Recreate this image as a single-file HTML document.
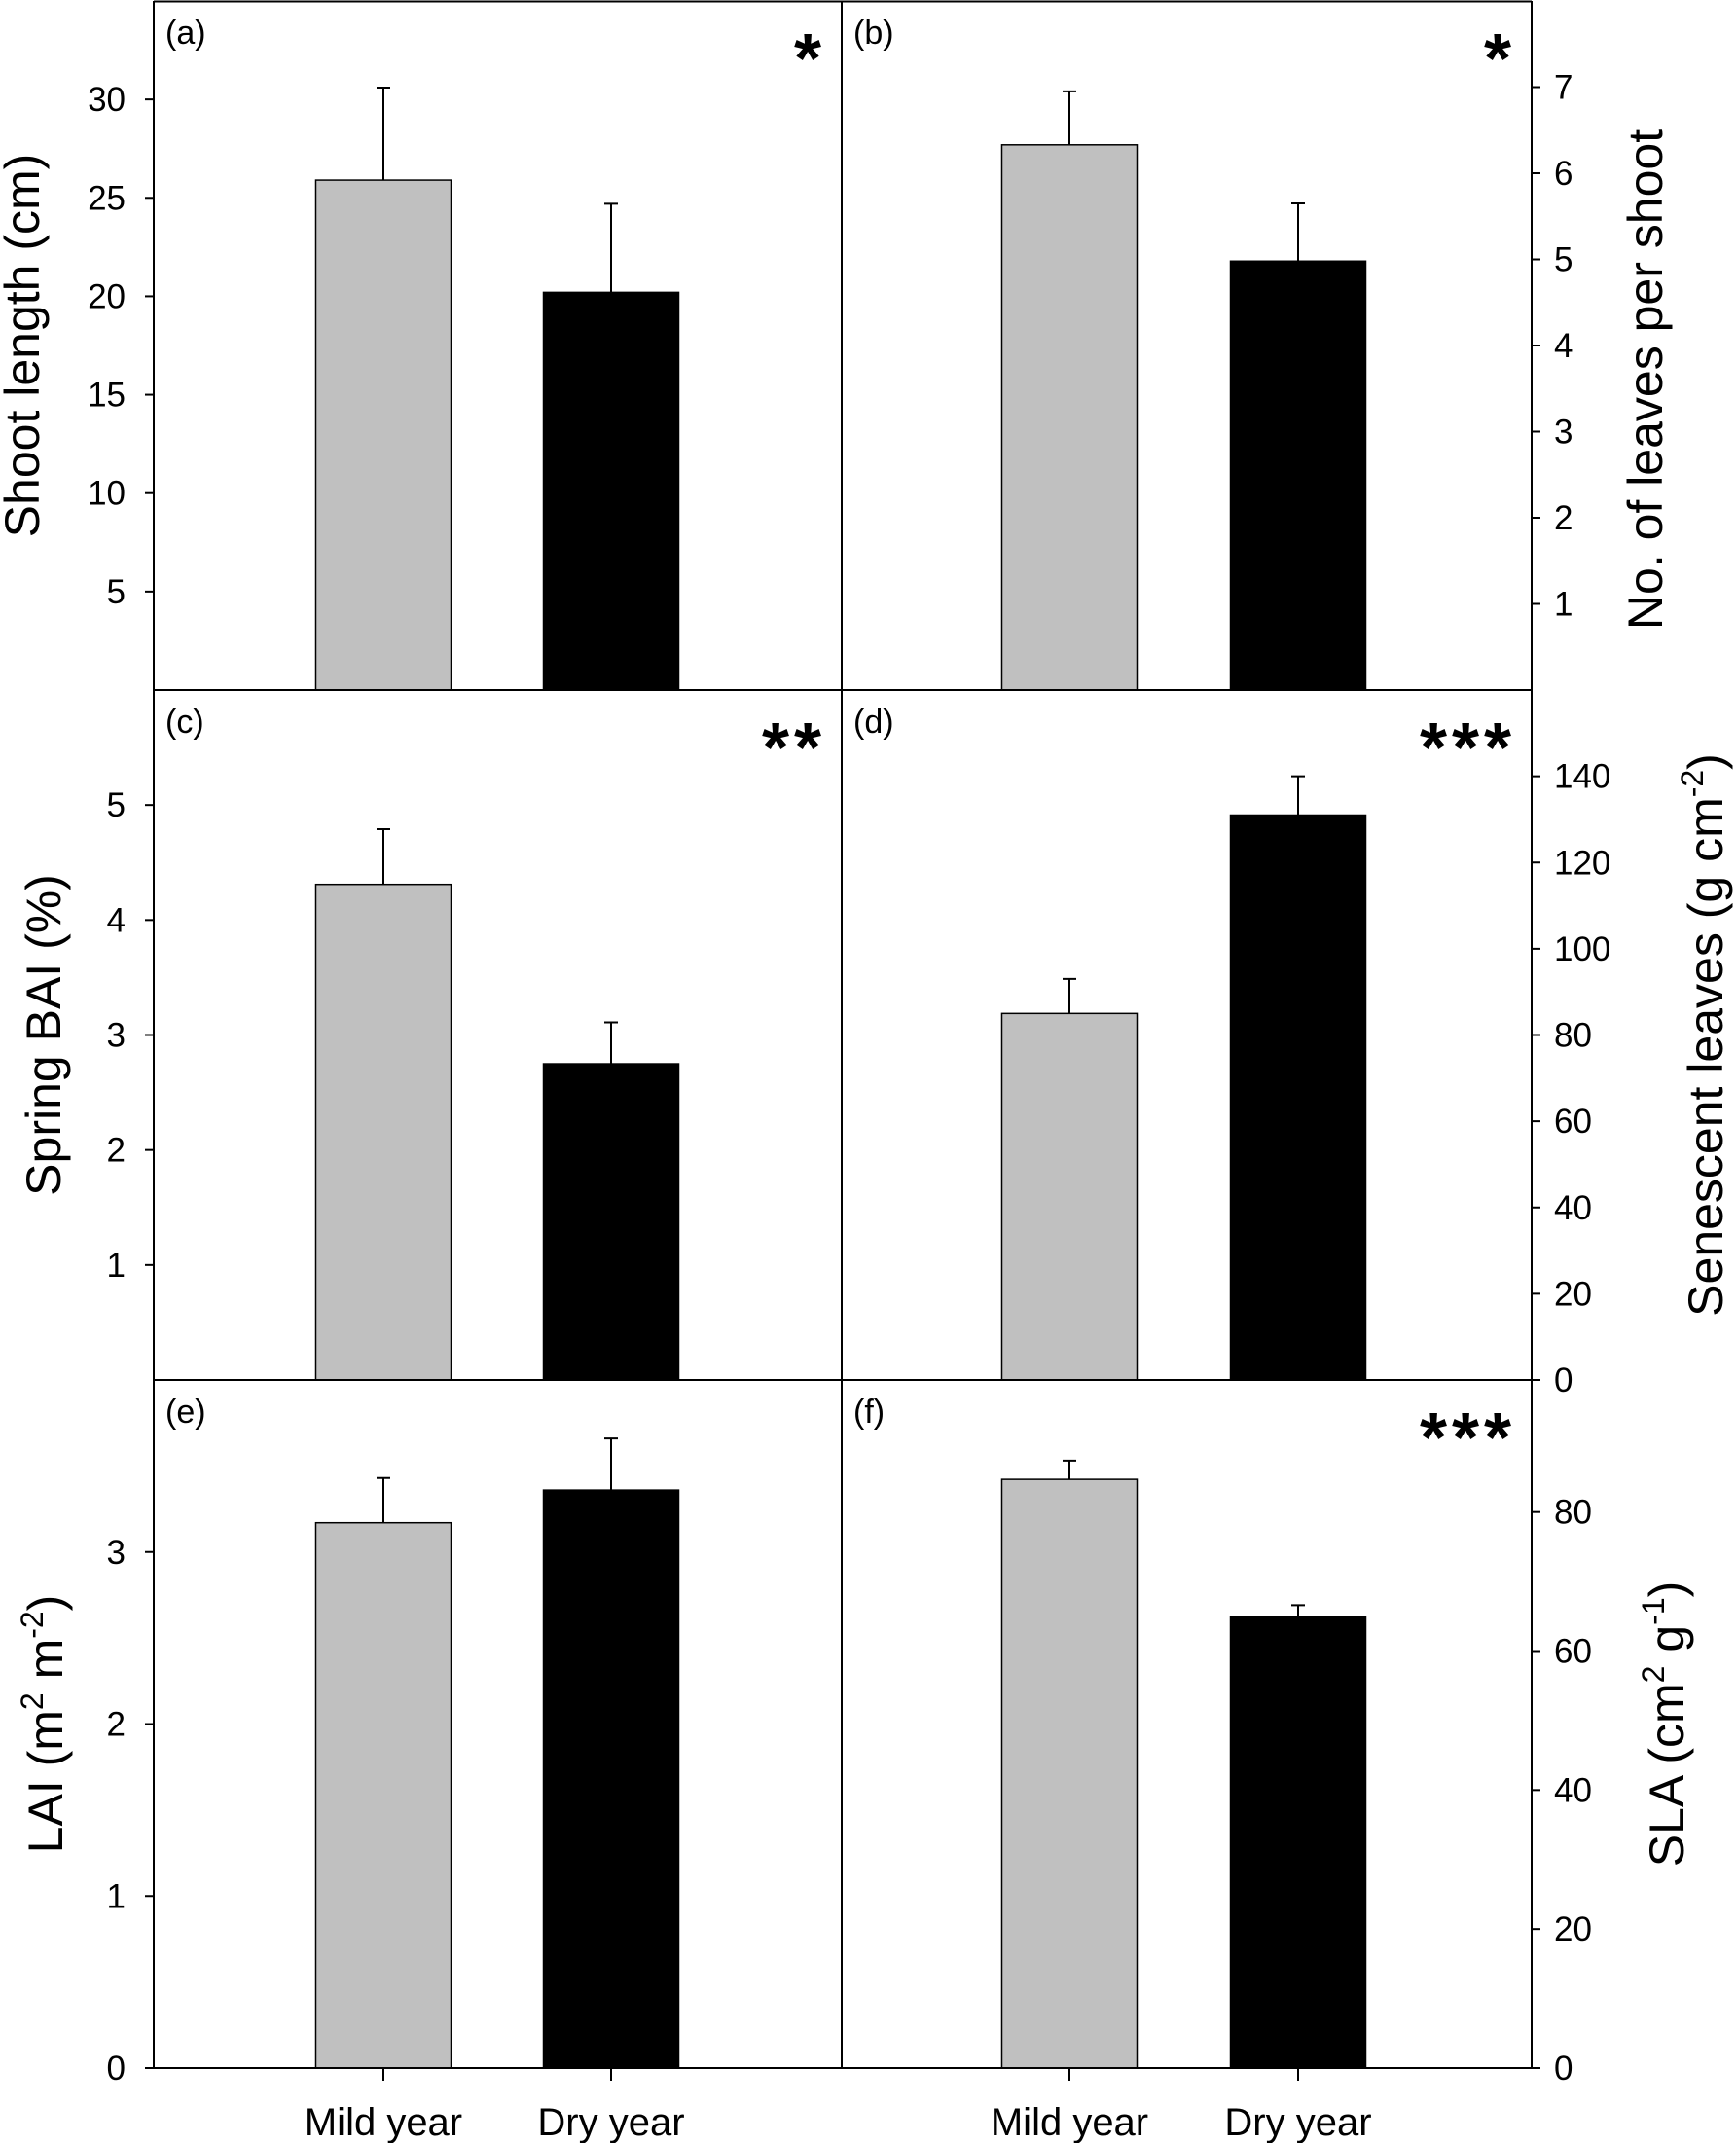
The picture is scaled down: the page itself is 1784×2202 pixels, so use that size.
<!DOCTYPE html>
<html><head><meta charset="utf-8"><style>
html,body{margin:0;padding:0;background:#fff;}
svg{display:block;font-family:"Liberation Sans",Arial,sans-serif;}
</style></head><body>
<svg id="chart" width="1784" height="2202" viewBox="0 0 1784 2202" xmlns="http://www.w3.org/2000/svg"></svg>
<script>
const categories = ["Mild year", "Dry year"];
const panelLetters = ["(a)", "(b)", "(c)", "(d)", "(e)", "(f)"];
const significance = ["*", "*", "**", "***", "", "***"];
const meansA = [25.9, 20.2];  const errsA = [4.7, 4.5];
const meansB = [6.33, 4.98];  const errsB = [0.62, 0.67];
const meansC = [4.31, 2.75];  const errsC = [0.48, 0.36];
const meansD = [85, 131];     const errsD = [8, 9];
const meansE = [3.17, 3.36];  const errsE = [0.26, 0.30];
const meansF = [84.7, 65];    const errsF = [2.7, 1.6];
const ticksA = [5, 10, 15, 20, 25, 30];
const ticksB = [1, 2, 3, 4, 5, 6, 7];
const ticksC = [1, 2, 3, 4, 5];
const ticksD = [0, 20, 40, 60, 80, 100, 120, 140];
const ticksE = [0, 1, 2, 3];
const ticksF = [0, 20, 40, 60, 80];
const maxA = 35, maxB = 8, maxC = 6, maxD = 160, maxE = 4, maxF = 99;

const svg = document.getElementById('chart');
const NS = 'http://www.w3.org/2000/svg';
function mk(tag, attrs, parent){const e=document.createElementNS(NS,tag);for(const k in attrs)e.setAttribute(k,attrs[k]);(parent||svg).appendChild(e);return e;}

const X0=158, XM=865, X1=1574;
const rows=[[1,709],[709,1418],[1418,2125]];
const barW=139;
const panels=[
 {side:'L',row:0,means:meansA,errs:errsA,ticks:ticksA,max:maxA,title:['Shoot length (cm)'],tx:22,dy:0,name:'shoot-length'},
 {side:'R',row:0,means:meansB,errs:errsB,ticks:ticksB,max:maxB,title:['No. of  leaves per shoot'],tx:1690,dy:35,name:'leaves-per-shoot'},
 {side:'L',row:1,means:meansC,errs:errsC,ticks:ticksC,max:maxC,title:['Spring BAI (%)'],tx:44,dy:0,name:'spring-bai'},
 {side:'R',row:1,means:meansD,errs:errsD,ticks:ticksD,max:maxD,title:['Senescent leaves (g cm','-2',')'],tx:1752,dy:0,name:'senescent-leaves'},
 {side:'L',row:2,means:meansE,errs:errsE,ticks:ticksE,max:maxE,title:['LAI (m','2',' m','-2',')'],tx:46,dy:0,name:'lai'},
 {side:'R',row:2,means:meansF,errs:errsF,ticks:ticksF,max:maxF,title:['SLA (cm','2',' g','-1',')'],tx:1712,dy:0,name:'sla'}
];
const centersL=[394,628], centersR=[1099,1334];

panels.forEach((p,i)=>{
  const [top,bot]=rows[p.row];
  const left=p.side==='L'?X0:XM, right=p.side==='L'?XM:X1;
  const g=mk('g',{});
  
  
  const y=v=>bot-(v/p.max)*(bot-top);
  const centers=p.side==='L'?centersL:centersR;
  p.means.forEach((m,j)=>{
    const cx=centers[j];
    const b=mk('rect',{x:cx-barW/2,y:y(m),width:barW,height:bot-y(m),fill:j===0?'#c0c0c0':'#000',stroke:'#000','stroke-width':1.5},g);
    
    
    const et=y(m+p.errs[j]);
    const e=mk('path',{d:`M${cx} ${y(m)}V${et}M${cx-7} ${et}H${cx+7}`,stroke:'#000','stroke-width':2,fill:'none'},g);
    
    
  });
  p.ticks.forEach(t=>{
    const ty=y(t);
    if(p.side==='L'){
      mk('line',{x1:X0-9,x2:X0,y1:ty,y2:ty,stroke:'#000','stroke-width':2},g);
      const tl=mk('text',{x:129,y:ty+12,'text-anchor':'end','font-size':35},g);
      tl.textContent=t;
      
      
    } else {
      mk('line',{x1:X1,x2:X1+9,y1:ty,y2:ty,stroke:'#000','stroke-width':2},g);
      const tl=mk('text',{x:1597,y:ty+12,'text-anchor':'start','font-size':35},g);
      tl.textContent=t;
      
      
    }
  });
  const pl=mk('text',{x:left+12,y:top+44,'font-size':34},g);
  pl.textContent=panelLetters[i];
  
  
  if(significance[i]){
    const s=mk('text',{x:right-16,y:top+84,'text-anchor':'end','font-size':72,'font-weight':'bold','letter-spacing':5},g);
    s.textContent=significance[i];
    
    
  }
  const cy=(top+bot)/2+p.dy;
  const t=mk('text',{x:0,y:0,'text-anchor':'middle','font-size':50,transform:`translate(${p.tx+18},${cy}) rotate(-90)`},g);
  
  
  p.title.forEach((s,k)=>{
    const sp=mk('tspan',{},t);
    if(k%2===1){sp.setAttribute('font-size',32);sp.setAttribute('dy',-20);}
    else if(k>0){sp.setAttribute('dy',20);}
    sp.textContent=s;
  });
});
mk('path',{d:`M${X0} 1V2125H${X1}V1M${X0} 1.5H${X1}M${XM} 1V2125M${X0} 709H${X1}M${X0} 1418H${X1}`,stroke:'#000','stroke-width':2,fill:'none'});
[centersL,centersR].forEach(cs=>cs.forEach((cx,j)=>{
  mk('line',{x1:cx,x2:cx,y1:2125,y2:2138,stroke:'#000','stroke-width':2});
  const l=mk('text',{x:cx,y:2194,'text-anchor':'middle','font-size':40});
  l.textContent=categories[j];
  
  
}));
</script>
</body></html>
